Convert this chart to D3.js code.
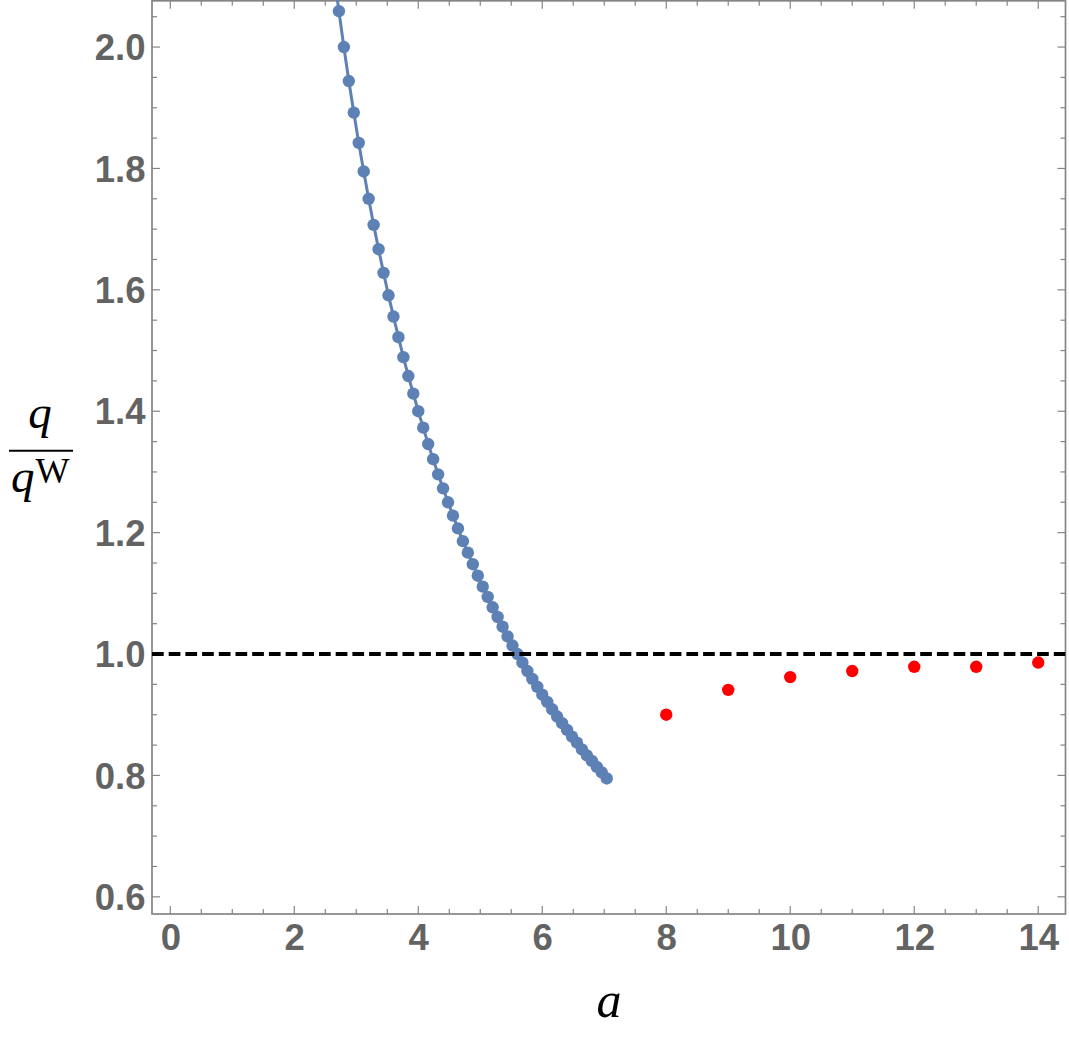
<!DOCTYPE html>
<html>
<head>
<meta charset="utf-8">
<script src="https://cdn.jsdelivr.net/npm/d3@7"></script>
<style>
  html, body { margin: 0; padding: 0; background: #fff; }
  svg { display: block; }
</style>
</head>
<body>
<svg id="chart" width="1069" height="1042"></svg>
<script>
// ---- data ----
const curveA = [2.64, 2.72, 2.80, 2.88, 2.96, 3.04, 3.12, 3.20, 3.28, 3.36, 3.44, 3.52, 3.60, 3.68, 3.76, 3.84, 3.92, 4.00,
  4.08, 4.16, 4.24, 4.32, 4.40, 4.48, 4.56, 4.64, 4.72, 4.80, 4.88, 4.96, 5.04, 5.12, 5.20, 5.28, 5.36, 5.44,
  5.52, 5.60, 5.68, 5.76, 5.84, 5.92, 6.00, 6.08, 6.16, 6.24, 6.32, 6.40, 6.48, 6.56, 6.64, 6.72, 6.80, 6.88, 6.96, 7.04];
const curveQ = [2.121, 2.059, 2.000, 1.944, 1.892, 1.842, 1.795, 1.750, 1.707, 1.667, 1.628, 1.591, 1.556, 1.522, 1.489, 1.458, 1.429, 1.400,
  1.373, 1.346, 1.321, 1.296, 1.273, 1.250, 1.228, 1.207, 1.186, 1.167, 1.148, 1.129, 1.111, 1.094, 1.077, 1.061, 1.045, 1.029,
  1.014, 1.000, 0.986, 0.972, 0.959, 0.946, 0.933, 0.921, 0.909, 0.897, 0.886, 0.875, 0.864, 0.854, 0.843, 0.833, 0.824, 0.814, 0.805, 0.795];
const redA = [8, 9, 10, 11, 12, 13, 14];
const redQ = [0.900, 0.941, 0.962, 0.972, 0.979, 0.979, 0.986];
const refLine = 1.0;
const xTicks = [0, 2, 4, 6, 8, 10, 12, 14];
const yTicks = [0.6, 0.8, 1.0, 1.2, 1.4, 1.6, 1.8, 2.0];

// ---- layout ----
const L = 152, R = 1065.5, T = 0.8, B = 914;
const svg = d3.select("#chart");
const x = d3.scaleLinear().domain([-0.295, 14.44]).range([L, R]);
const y = d3.scaleLinear().domain([0.5717, 2.0762]).range([B, T]);

const frameColor = "#858585";
const labelColor = "#636363";

svg.append("defs").append("clipPath").attr("id", "clip")
  .append("rect").attr("x", L).attr("y", 0).attr("width", R - L).attr("height", B);

const xMinor = d3.range(0, 14.01, 0.5);
const yMinor = d3.range(0.6, 2.051, 0.05);

const g = svg.append("g");
function tickMarks(vals, isMajor) {
  const len = isMajor ? 8 : 5;
  vals.forEach(v => {
    g.append("line").attr("x1", x(v)).attr("x2", x(v)).attr("y1", B).attr("y2", B - len)
      .attr("stroke", frameColor).attr("stroke-width", 1.2);
    g.append("line").attr("x1", x(v)).attr("x2", x(v)).attr("y1", T).attr("y2", T + len)
      .attr("stroke", frameColor).attr("stroke-width", 1.2);
  });
}
function tickMarksY(vals, isMajor) {
  const len = isMajor ? 8 : 5;
  vals.forEach(v => {
    g.append("line").attr("y1", y(v)).attr("y2", y(v)).attr("x1", L).attr("x2", L + len)
      .attr("stroke", frameColor).attr("stroke-width", 1.2);
    g.append("line").attr("y1", y(v)).attr("y2", y(v)).attr("x1", R).attr("x2", R - len)
      .attr("stroke", frameColor).attr("stroke-width", 1.2);
  });
}
const isMajX = v => Math.abs(v / 2 - Math.round(v / 2)) < 1e-6;
const isMajY = v => Math.abs(v / 0.2 - Math.round(v / 0.2)) < 1e-6;
tickMarks(xMinor.filter(v => !isMajX(v)), false);
tickMarks(xTicks, true);
tickMarksY(yMinor.filter(v => !isMajY(v)), false);
tickMarksY(yTicks, true);

// frame
svg.append("rect").attr("x", L).attr("y", T).attr("width", R - L).attr("height", B - T)
  .attr("fill", "none").attr("stroke", frameColor).attr("stroke-width", 1.7);

// tick labels via axes (labels only)
const xAx = svg.append("g").attr("transform", `translate(0,${B})`)
  .call(d3.axisBottom(x).tickValues(xTicks).tickFormat(d3.format("d")).tickSize(0).tickPadding(0));
xAx.select(".domain").remove();
xAx.selectAll("text").attr("y", 36).attr("dy", null)
  .attr("font-family", "'Liberation Sans', Arial, sans-serif").attr("font-weight", "bold")
  .attr("font-size", 36.5).attr("fill", labelColor);

const yAx = svg.append("g").attr("transform", `translate(${L},0)`)
  .call(d3.axisLeft(y).tickValues(yTicks).tickFormat(d3.format(".1f")).tickSize(0).tickPadding(0));
yAx.select(".domain").remove();
yAx.selectAll("text").attr("x", -6.5).attr("dy", 12.7)
  .attr("font-family", "'Liberation Sans', Arial, sans-serif").attr("font-weight", "bold")
  .attr("font-size", 36.5).attr("fill", labelColor);

// data
const plot = svg.append("g").attr("clip-path", "url(#clip)");
const curve = curveA.map((a, i) => [a, curveQ[i]]);
plot.append("path").datum(curve)
  .attr("d", d3.line().x(d => x(d[0])).y(d => y(d[1])))
  .attr("fill", "none").attr("stroke", "#5E81B5").attr("stroke-width", 3);
plot.selectAll("circle.blue").data(curve).join("circle").attr("class", "blue")
  .attr("cx", d => x(d[0])).attr("cy", d => y(d[1])).attr("r", 6.2).attr("fill", "#5E81B5");

plot.append("line").attr("x1", L).attr("x2", R).attr("y1", y(refLine)).attr("y2", y(refLine))
  .attr("stroke", "#000").attr("stroke-width", 4).attr("stroke-dasharray", "11.7,5");

plot.selectAll("circle.red").data(redA.map((a, i) => [a, redQ[i]])).join("circle").attr("class", "red")
  .attr("cx", d => x(d[0])).attr("cy", d => y(d[1])).attr("r", 6.2).attr("fill", "#FF0000");

// axis titles
const serif = "'Liberation Serif', 'Times New Roman', serif";
svg.append("text").attr("x", 609).attr("y", 1017).attr("text-anchor", "middle")
  .attr("font-family", serif).attr("font-style", "italic").attr("font-size", 50).attr("fill", "#000").text("a");

const yl = svg.append("g");
yl.append("text").attr("x", 40).attr("y", 428).attr("text-anchor", "middle")
  .attr("font-family", serif).attr("font-style", "italic").attr("font-size", 47).attr("fill", "#000").text("q");
yl.append("line").attr("x1", 9).attr("x2", 73).attr("y1", 450.7).attr("y2", 450.7)
  .attr("stroke", "#000").attr("stroke-width", 2);
const bt = yl.append("text").attr("x", 11).attr("y", 492)
  .attr("font-family", serif).attr("font-size", 47).attr("fill", "#000");
bt.append("tspan").attr("font-style", "italic").text("q");
bt.append("tspan").attr("font-size", 36).attr("dy", -9).attr("dx", 1).text("W");
</script>
</body>
</html>
